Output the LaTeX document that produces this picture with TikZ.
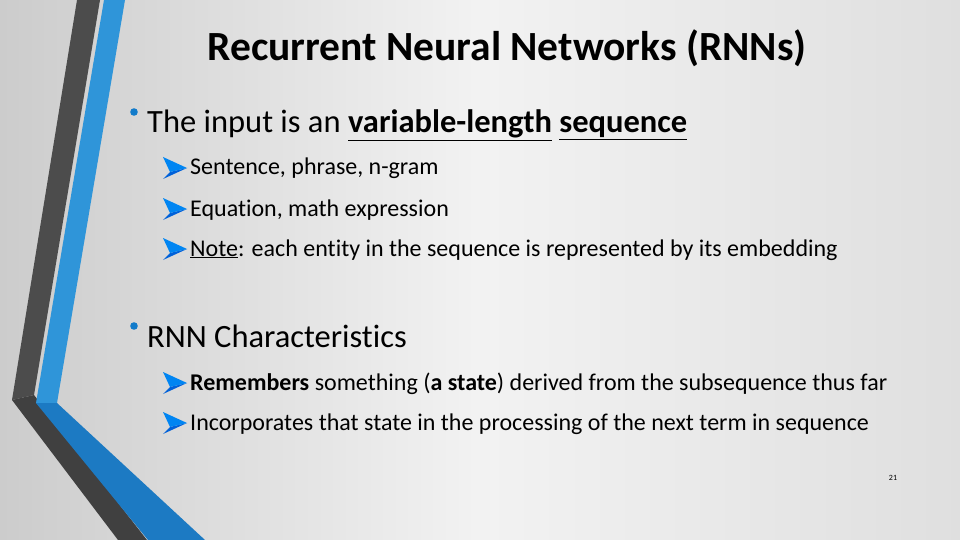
\documentclass[tikz,border=0pt]{standalone}
\usepackage{fontspec}
\setmainfont{Carlito}[Ligatures={NoCommon}]
\begin{document}
\begin{tikzpicture}[x=1pt,y=-1pt,
  lone/.style={anchor=base west,font=\fontsize{32.5}{36}\selectfont,inner sep=0},
  ltwo/.style={anchor=base west,font=\fontsize{24}{28}\selectfont,inner sep=0},
  arr/.pic={\fill[blue!55!cyan!85!black] (0,2)--(24,-9)--(7,-5)--cycle; \fill[blue!45!cyan!95!black] (0,-20)--(24,-9)--(7,-5)--cycle;}]
\useasboundingbox (0,0) rectangle (960,540);
\shade[left color=gray!40,right color=gray!10] (0,0) rectangle (480,540);
\shade[left color=gray!10,right color=gray!25] (480,0) rectangle (960,540);
% decoration
\fill[black!70] (77,0)--(100,0)--(34,395)--(12,400)--cycle;
\fill[black!75] (12,400)--(34,395)--(147,540)--(118,540)--cycle;
\fill[cyan!70!blue!85] (104,0)--(125,0)--(57,403)--(36,403)--cycle;
\fill[cyan!60!blue!95!black] (36,403)--(57,403)--(205,540)--(148,540)--cycle;
% title
\node[font=\bfseries\fontsize{41.5}{45}\selectfont,anchor=base] (title) at (507,61) {Recurrent Neural Networks (RNNs)};
\fill[cyan!60!blue] (134,112) circle (3.8);
\node[lone] (b1) at (147,133) {The input is an \underline{\textbf{variable-length}} \underline{\textbf{sequence}}};
\pic at (163,177) {arr};
\node[ltwo] (s1) at (190,175) {Sentence, phrase, n-gram};
\pic at (163,218) {arr};
\node[ltwo] (s2) at (190,216) {Equation, math expression};
\pic at (163,258) {arr};
\node[ltwo] (s3) at (190,256) {\underline{Note}: each entity in the sequence is represented by its embedding};
\fill[cyan!60!blue] (134,326) circle (3.8);
\node[lone] (b2) at (147,347) {RNN Characteristics};
\pic at (163,392) {arr};
\node[ltwo] (s4) at (190,390) {\textbf{Remembers} something (\textbf{a state}) derived from the subsequence thus far};
\pic at (163,432) {arr};
\node[ltwo] (s5) at (190,430) {Incorporates that state in the processing of the next term in sequence};
\node[anchor=base,font=\fontsize{8}{9}\selectfont] (pg) at (893,480) {21};
\end{tikzpicture}
\end{document}
